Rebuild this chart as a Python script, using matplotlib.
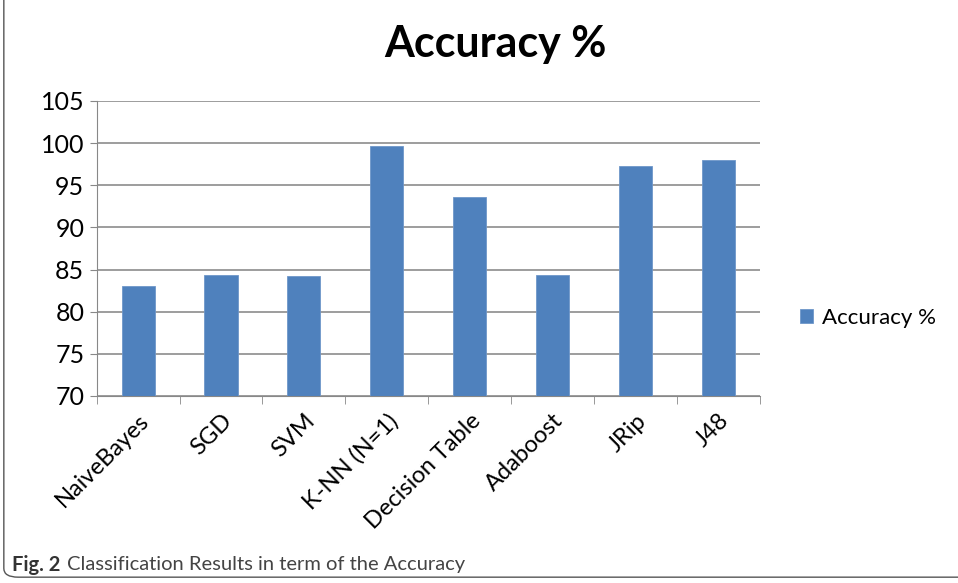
import matplotlib.pyplot as plt
from matplotlib.patches import FancyBboxPatch

# Данные
classifiers = ["NaiveBayes", "SGD", "SVM", "K-NN (N=1)", "Decision Table",
               "Adaboost", "JRip", "J48"]
accuracy = [83.1, 84.4, 84.2, 99.7, 93.6, 84.3, 97.3, 98.0]
y_ticks = [70, 75, 80, 85, 90, 95, 100, 105]

plt.rcParams["font.family"] = ["Lato", "DejaVu Sans"]

fig = plt.figure(figsize=(9.58, 5.83), dpi=100)
ax = fig.add_axes([0.101, 0.3208, 0.692, 0.506])

x = range(len(classifiers))
ax.bar(x, accuracy, width=0.4, color="#4F81BD", label="Accuracy %", zorder=3,
       edgecolor="#6f97c9", linewidth=0.6)

ax.set_ylim(70, 105)
ax.set_xlim(-0.5, len(classifiers) - 0.5)
ax.set_yticks(y_ticks)
ax.tick_params(axis="y", labelsize=18, length=5, color="#888888", pad=4)

# Метки категорий и деления между столбцами
ax.set_xticks(list(x))
ax.set_xticklabels(classifiers, rotation=45, ha="right", rotation_mode="anchor",
                   fontsize=17)
ax.tick_params(axis="x", length=0, pad=10)
ax.set_xticks([i - 0.5 for i in range(len(classifiers) + 1)], minor=True)
ax.tick_params(axis="x", which="minor", length=6, color="#888888")

ax.grid(True, axis="y", color="#8c8c8c", linewidth=1.2, zorder=0)
for side in ["top", "right"]:
    ax.spines[side].set_visible(False)
ax.spines["left"].set_color("#888888")
ax.spines["bottom"].set_color("#888888")

fig.text(0.517, 0.925, "Accuracy %", ha="center", va="center",
         fontsize=31, fontweight="bold")

ax.legend(loc="center left", bbox_to_anchor=(0.835, 0.455),
          bbox_transform=fig.transFigure, frameon=False, fontsize=16,
          handlelength=0.6, handleheight=0.6, handletextpad=0.4,
          borderaxespad=0, borderpad=0)

# Подпись рисунка
renderer = fig.canvas.get_renderer()
t1 = fig.text(0.013, 0.031, "Fig. 2", fontsize=14.5, fontweight="bold",
              color="#333333", va="center")
bb = t1.get_window_extent(renderer).transformed(fig.transFigure.inverted())
fig.text(bb.x1 + 0.006, 0.031, "Classification Results in term of the Accuracy",
         fontsize=14.5, color="#444444", va="center")

# Рамка
frame = FancyBboxPatch((0.004, 0.01), 1.1, 1.05,
                       boxstyle="round,pad=0,rounding_size=0.015",
                       transform=fig.transFigure, fill=False,
                       edgecolor="#555555", linewidth=1.0)
fig.patches.append(frame)

fig.savefig("out.png", dpi=100)
